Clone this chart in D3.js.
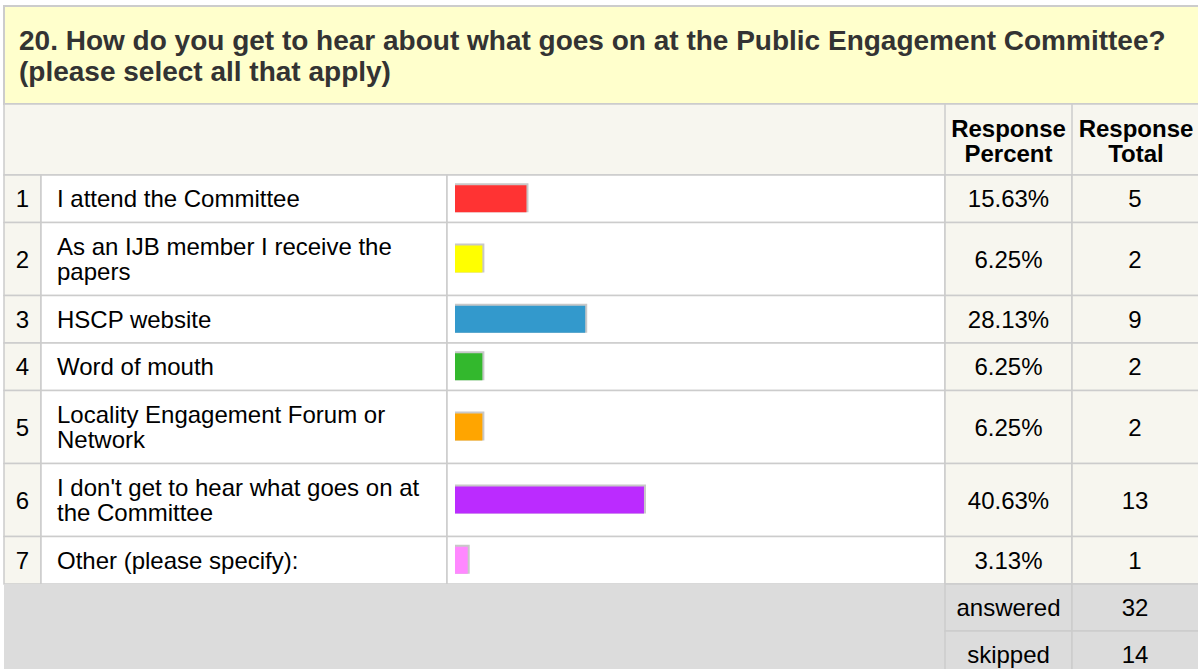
<!DOCTYPE html>
<html>
<head>
<meta charset="utf-8">
<script src="https://cdn.jsdelivr.net/npm/d3@7"></script>
<style>
  body { margin: 0; background: #fff; }
  svg { display: block; font-family: "Liberation Sans", Arial, sans-serif; }
</style>
</head>
<body>
<div id="chart"></div>
<script>
const questionTitle = ["20. How do you get to hear about what goes on at the Public Engagement Committee?", "(please select all that apply)"];
const answerLabels = [
    ["I attend the Committee"],
    ["As an IJB member I receive the", "papers"],
    ["HSCP website"],
    ["Word of mouth"],
    ["Locality Engagement Forum or", "Network"],
    ["I don't get to hear what goes on at", "the Committee"],
    ["Other (please specify):"]
];
const responsePercent = [15.63, 6.25, 28.13, 6.25, 6.25, 40.63, 3.13];
const responseTotal = [5, 2, 9, 2, 2, 13, 1];
const barColors = ["#ff3333", "#ffff00", "#3399cc", "#33b82d", "#ffa500", "#bb2bff", "#ff88ff"];
const summaryLabels = ["answered", "skipped"];
const summaryValues = [32, 14];

const width = 1198, height = 669;
const fontSize = 24;
const titleSize = 28;
const lineColor = "#cccccc";
const cellBg = "#f7f6ef";

// column edges
const colX = [4, 41, 447, 945, 1072, 1200];
const titleTop = 6, titleBottom = 104, headBottom = 175;
const lineH = 24.5;
const rowHeights = answerLabels.map(l => l.length > 1 ? 73 : 47.5);
const rowTops = [];
rowHeights.reduce((y, h) => { rowTops.push(y); return y + h; }, headBottom);
const tableBottom = rowTops[rowTops.length - 1] + rowHeights[rowHeights.length - 1];
const summaryH = 47;
const baseShift = 8.5;

const svg = d3.select("#chart").append("svg")
    .attr("width", width)
    .attr("height", height);

// question header
svg.append("rect")
    .attr("x", colX[0]).attr("y", titleTop)
    .attr("width", width).attr("height", titleBottom - titleTop)
    .attr("fill", "#ffffcc")
    .attr("stroke", lineColor).attr("stroke-width", 2);

svg.append("g").selectAll("text")
    .data(questionTitle)
    .join("text")
    .attr("x", 19)
    .attr("y", (d, i) => 50 + i * 31)
    .attr("font-size", titleSize)
    .attr("font-weight", "bold")
    .attr("fill", "#333333")
    .text(d => d);

// column header row
svg.append("rect")
    .attr("x", colX[0]).attr("y", titleBottom)
    .attr("width", width).attr("height", headBottom - titleBottom)
    .attr("fill", cellBg)
    .attr("stroke", lineColor).attr("stroke-width", 1.5);

const headers = [["Response", "Percent"], ["Response", "Total"]];
headers.forEach((h, c) => {
    svg.append("g").selectAll("text")
        .data(h)
        .join("text")
        .attr("x", (colX[3 + c] + colX[4 + c]) / 2)
        .attr("y", (d, i) => 136.5 + i * 25)
        .attr("text-anchor", "middle")
        .attr("font-size", fontSize)
        .attr("font-weight", "bold")
        .attr("fill", "#000")
        .text(d => d);
});
[colX[3], colX[4]].forEach(x => {
    svg.append("line")
        .attr("x1", x).attr("x2", x)
        .attr("y1", titleBottom).attr("y2", headBottom)
        .attr("stroke", lineColor).attr("stroke-width", 1.5);
});

// bar scale
const x = d3.scaleLinear().domain([0, 100]).range([0, 470]);
const barX0 = 455, barH = 27;

const rows = svg.append("g").selectAll("g")
    .data(answerLabels.map((label, i) => ({
        label, i,
        pct: responsePercent[i],
        total: responseTotal[i],
        color: barColors[i],
        y: rowTops[i],
        h: rowHeights[i]
    })))
    .join("g");

// cell backgrounds
const cellFills = [cellBg, "#ffffff", "#ffffff", cellBg, cellBg];
cellFills.forEach((fill, c) => {
    rows.append("rect")
        .attr("x", colX[c]).attr("y", d => d.y)
        .attr("width", colX[c + 1] - colX[c]).attr("height", d => d.h)
        .attr("fill", fill)
        .attr("stroke", lineColor).attr("stroke-width", 1.5);
});

// row number
rows.append("text")
    .attr("x", (colX[0] + colX[1]) / 2)
    .attr("y", d => d.y + d.h / 2 + baseShift)
    .attr("text-anchor", "middle")
    .attr("font-size", fontSize)
    .text(d => d.i + 1);

// labels
rows.each(function (d) {
    const n = d.label.length;
    d3.select(this).append("g").selectAll("text")
        .data(d.label)
        .join("text")
        .attr("x", 57)
        .attr("y", (t, j) => d.y + d.h / 2 + baseShift + (j - (n - 1) / 2) * lineH)
        .attr("font-size", fontSize)
        .text(t => t);
});

// bars with shadow
rows.append("rect")
    .attr("x", barX0)
    .attr("y", d => d.y + d.h / 2 - barH / 2 - 2)
    .attr("width", d => x(d.pct))
    .attr("height", barH + 2)
    .attr("fill", "#c8c8c8");
rows.append("rect")
    .attr("x", barX0)
    .attr("y", d => d.y + d.h / 2 - barH / 2)
    .attr("width", d => x(d.pct) - 2)
    .attr("height", barH)
    .attr("fill", d => d.color);

// percent & total
rows.append("text")
    .attr("x", (colX[3] + colX[4]) / 2)
    .attr("y", d => d.y + d.h / 2 + baseShift)
    .attr("text-anchor", "middle")
    .attr("font-size", fontSize)
    .text(d => d.pct.toFixed(2) + "%");
rows.append("text")
    .attr("x", (colX[4] + colX[5]) / 2 - 1)
    .attr("y", d => d.y + d.h / 2 + baseShift)
    .attr("text-anchor", "middle")
    .attr("font-size", fontSize)
    .text(d => d.total);

// summary block
svg.append("rect")
    .attr("x", colX[0]).attr("y", tableBottom)
    .attr("width", width).attr("height", height - tableBottom)
    .attr("fill", "#dcdcdc");

const summary = svg.append("g").selectAll("g")
    .data(summaryLabels.map((s, i) => ({ s, v: summaryValues[i], y: tableBottom + i * summaryH })))
    .join("g");

[3, 4].forEach(c => {
    summary.append("rect")
        .attr("x", colX[c]).attr("y", d => d.y)
        .attr("width", colX[c + 1] - colX[c]).attr("height", summaryH)
        .attr("fill", "#dcdcdc")
        .attr("stroke", lineColor).attr("stroke-width", 1.5);
});
summary.append("text")
    .attr("x", (colX[3] + colX[4]) / 2)
    .attr("y", d => d.y + summaryH / 2 + baseShift)
    .attr("text-anchor", "middle")
    .attr("font-size", fontSize)
    .text(d => d.s);
summary.append("text")
    .attr("x", (colX[4] + colX[5]) / 2 - 1)
    .attr("y", d => d.y + summaryH / 2 + baseShift)
    .attr("text-anchor", "middle")
    .attr("font-size", fontSize)
    .text(d => d.v);
</script>
</body>
</html>
